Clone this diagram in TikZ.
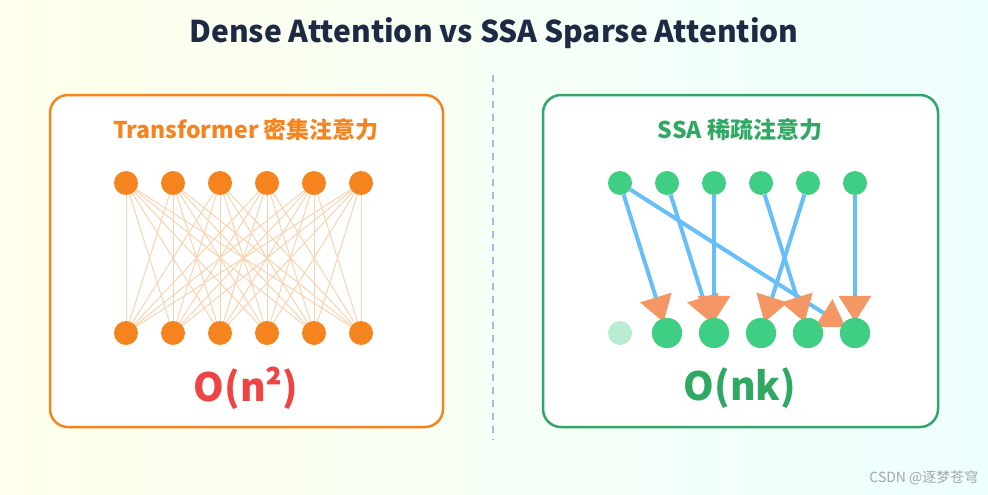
\documentclass[tikz,border=0pt]{standalone}
\usepackage{fontspec}
\setmainfont{Noto Sans CJK SC}
\usetikzlibrary{arrows.meta}
\definecolor{titleblue}{HTML}{1E2A44}
\definecolor{orangeA}{HTML}{F5841F}
\definecolor{peach}{HTML}{FBD3B0}
\definecolor{redO}{HTML}{EF4444}
\definecolor{greenA}{HTML}{3FCF84}
\definecolor{greenB}{HTML}{2FA864}
\definecolor{greenL}{HTML}{B8EDD3}
\definecolor{skyA}{HTML}{66BEFA}
\definecolor{tipA}{HTML}{F59764}
\tikzset{
  dot/.style={circle,fill=orangeA,inner sep=0pt,minimum size=24pt},
  gdot/.style={circle,fill=greenA,inner sep=0pt,minimum size=24pt},
  gbig/.style={circle,fill=greenA,inner sep=0pt,minimum size=30pt},
  dense/.style={peach,line width=1pt},
  sparse/.style={skyA,line width=4pt,-{Triangle[color=tipA,length=26pt,width=32pt]},shorten >=-4pt},
  panel/.style={rounded corners=18pt,line width=2.5pt,fill=white},
}
\begin{document}
\begin{tikzpicture}[x=1pt,y=-1pt]
\shade[left color=yellow!8,right color=cyan!7] (0,0) rectangle (988,495);
\useasboundingbox (0,0) rectangle (988,495);
\node[text=titleblue,font=\fontsize{30}{34}\selectfont\bfseries] (title) at (494,33) {Dense Attention vs SSA Sparse Attention};
\draw[gray!50!blue!40,dashed,line width=1.2pt,dash pattern=on 7pt off 6pt] (493,75) -- (493,440);
\draw[panel,draw=orangeA] (50,95) rectangle (443,427);
\draw[panel,draw=greenA!80!black] (543,95) rectangle (938,427);
\node[text=orangeA,font=\fontsize{23}{26}\selectfont\bfseries] (ltitle) at (246,130) {Transformer 密集注意力};
\node[text=greenB,font=\fontsize{23}{26}\selectfont\bfseries] (rtitle) at (740,130) {SSA 稀疏注意力};
% dense: every query to every key
\foreach \i in {1,...,6} {
  \coordinate (q\i) at (79+47*\i,183);
  \coordinate (k\i) at (79+47*\i,333);
}
\foreach \i in {1,...,6}
  \foreach \j in {1,...,6}
    \draw[dense] (q\i) -- (k\j);
\foreach \i in {1,...,6} {
  \node[dot] (qn\i) at (q\i) {};
  \node[dot] (kn\i) at (k\i) {};
}
\node[text=redO,font=\fontsize{39}{44}\selectfont\bfseries] (costL) at (246,388) {O(n²)};
% sparse: a few chosen keys
\foreach \i in {1,...,6}
  \node[gdot] (s\i) at (573+47*\i,183) {};
\node[circle,fill=greenL,inner sep=0pt,minimum size=24pt] (t1) at (620,333) {};
\foreach \i in {2,...,6}
  \node[gbig] (t\i) at (573+47*\i,333) {};
\draw[sparse] (s1) -- (t2);
\draw[sparse] (s1) -- (t6);
\draw[sparse] (s2) -- (t3);
\draw[sparse] (s3) -- (t3);
\draw[sparse] (s4) -- (t5);
\draw[sparse] (s5) -- (t4);
\draw[sparse] (s6) -- (t6);
\foreach \i in {2,...,6}
  \node[gbig] at (t\i) {};
\node[text=greenB,font=\fontsize{39}{44}\selectfont\bfseries] (costR) at (740,388) {O(nk)};
\node[text=gray!70,font=\fontsize{14}{16}\selectfont,anchor=east] (mark) at (982,478) {CSDN @逐梦苍穹};
\end{tikzpicture}
\end{document}
